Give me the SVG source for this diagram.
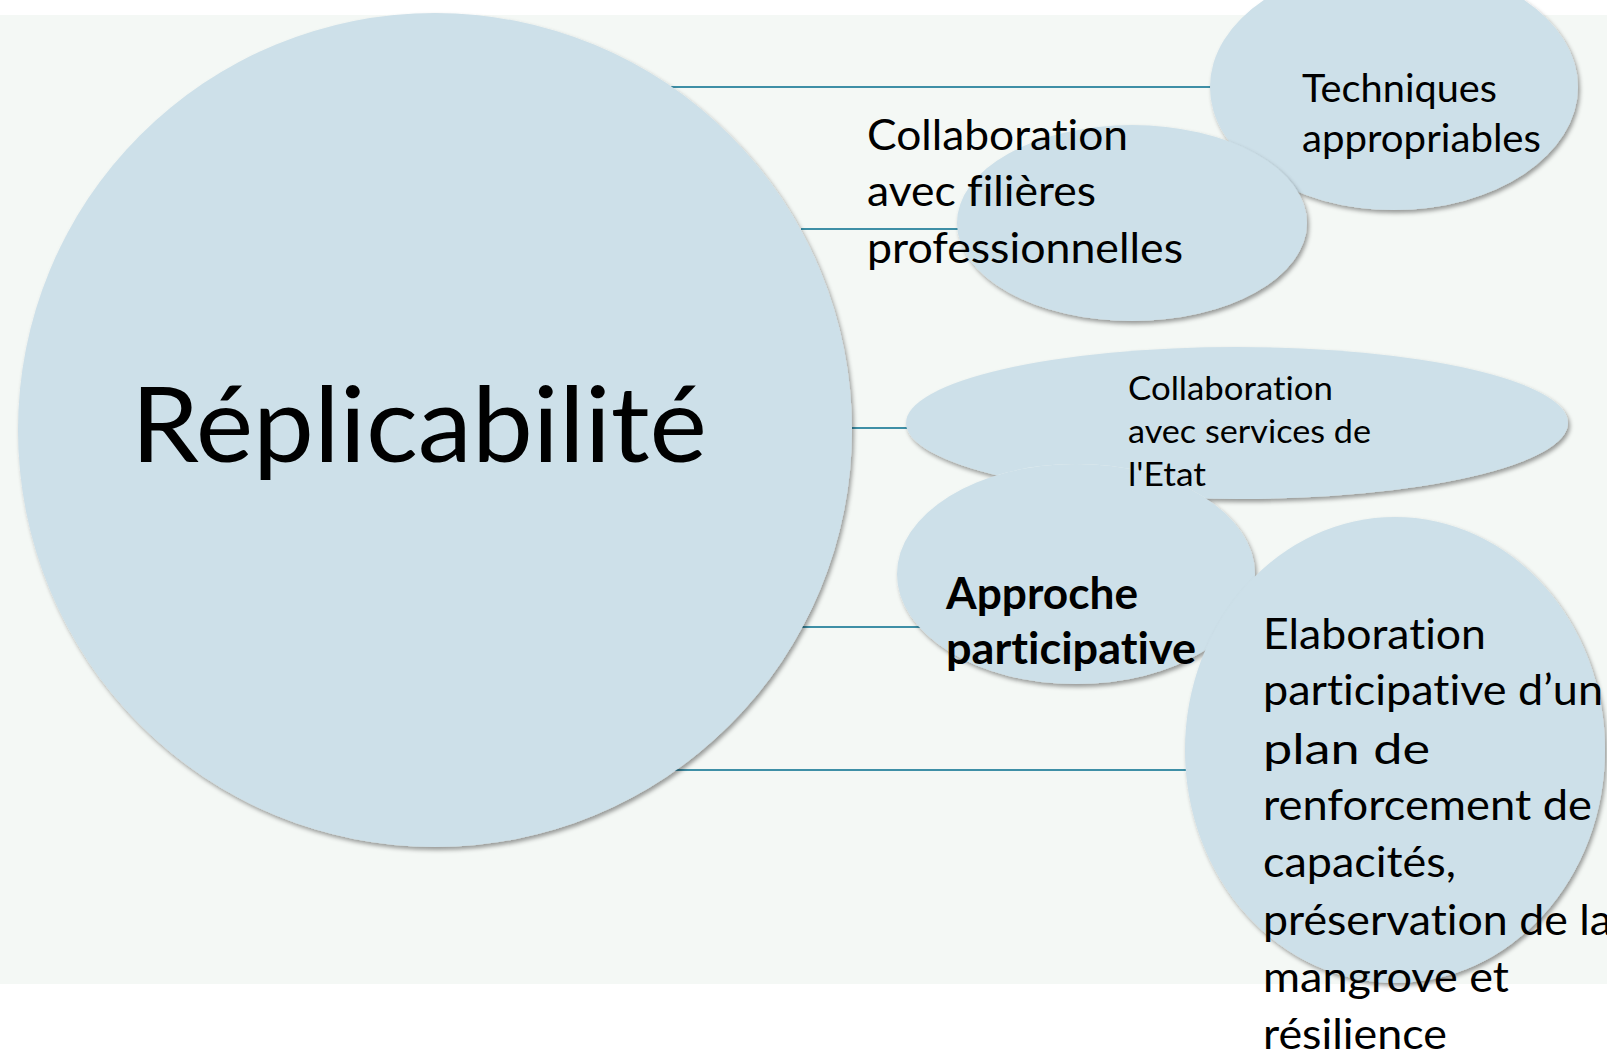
<svg xmlns="http://www.w3.org/2000/svg" width="1607" height="1053" viewBox="0 0 1607 1053">
  <style>
    .shape { fill: #CDE0E9; filter: url(#shadow); }
    .link { stroke: #3E8FA6; stroke-width: 2; fill: none; }
    .lbl { font-family: Lato, "Open Sans", "Liberation Sans", sans-serif; fill: #000; font-variant-ligatures: none; font-feature-settings: "liga" 0, "clig" 0; }
    .big { font-size: 104px; }
    .m { font-size: 43px; }
    .t { font-size: 38px; }
    .s { font-size: 33.5px; }
    .b { font-size: 43px; font-weight: bold; }
  </style>
  <defs>
    <filter id="shadow" x="-10%" y="-10%" width="120%" height="120%">
      <feDropShadow dx="2" dy="3" stdDeviation="2.2" flood-color="#000" flood-opacity="0.38"/>
    </filter>
    <mask id="servMask" maskUnits="userSpaceOnUse" x="0" y="0" width="1607" height="1053">
      <rect x="0" y="0" width="1607" height="1053" fill="#fff"/>
      <ellipse cx="1076" cy="574" rx="179" ry="110" fill="#000"/>
    </mask>
  </defs>

  <rect x="0" y="0" width="1607" height="1053" fill="#FFFFFF"/>
  <rect x="0" y="15" width="1607" height="969" fill="#F4F8F5"/>

  <g id="connectors">
    <line class="link" x1="671" y1="87" x2="1212" y2="87"/>
    <line class="link" x1="801" y1="229" x2="960" y2="229"/>
    <line class="link" x1="852" y1="428" x2="908" y2="428"/>
    <line class="link" x1="801" y1="627" x2="921" y2="627"/>
    <line class="link" x1="671" y1="770" x2="1190" y2="770"/>
  </g>

  <g id="node-replicabilite">
    <circle class="shape" cx="435" cy="430" r="417"/>
    <text class="lbl big" x="131" y="462" textLength="576" lengthAdjust="spacingAndGlyphs">Réplicabilité</text>
  </g>

  <g id="node-techniques">
    <ellipse class="shape" cx="1394" cy="87" rx="184" ry="123"/>
    <text class="lbl t" x="1302" y="102" textLength="195" lengthAdjust="spacingAndGlyphs">Techniques</text>
    <text class="lbl t" x="1302" y="152" textLength="239" lengthAdjust="spacingAndGlyphs">appropriables</text>
  </g>

  <g id="node-filieres">
    <ellipse class="shape" cx="1132" cy="223" rx="175" ry="98"/>
    <text class="lbl m" x="867" y="150" textLength="261" lengthAdjust="spacingAndGlyphs">Collaboration</text>
    <text class="lbl m" x="867" y="206" textLength="229" lengthAdjust="spacingAndGlyphs">avec filières</text>
    <text class="lbl m" x="867" y="263" textLength="316" lengthAdjust="spacingAndGlyphs">professionnelles</text>
  </g>

  <g id="node-approche">
    <ellipse class="shape" cx="1076" cy="574" rx="179" ry="110"/>
    <text class="lbl b" x="946" y="609" textLength="192" lengthAdjust="spacingAndGlyphs">Approche</text>
    <text class="lbl b" x="946" y="664" textLength="250" lengthAdjust="spacingAndGlyphs">participative</text>
  </g>

  <g id="node-services">
    <ellipse class="shape" cx="1237" cy="423" rx="331" ry="76" mask="url(#servMask)"/>
    <text class="lbl s" x="1128" y="400" textLength="205" lengthAdjust="spacingAndGlyphs">Collaboration</text>
    <text class="lbl s" x="1128" y="443" textLength="243" lengthAdjust="spacingAndGlyphs">avec services de</text>
    <text class="lbl s" x="1128" y="486" textLength="78" lengthAdjust="spacingAndGlyphs">l'Etat</text>
  </g>

  <g id="node-elaboration">
    <ellipse class="shape" cx="1395" cy="750" rx="210" ry="233"/>
    <text class="lbl m" x="1263" y="649" textLength="223" lengthAdjust="spacingAndGlyphs">Elaboration</text>
    <text class="lbl m" x="1263" y="705" textLength="340" lengthAdjust="spacingAndGlyphs">participative d’un</text>
    <text class="lbl m" x="1263" y="764" textLength="167" lengthAdjust="spacingAndGlyphs">plan de</text>
    <text class="lbl m" x="1263" y="820" textLength="329" lengthAdjust="spacingAndGlyphs">renforcement de</text>
    <text class="lbl m" x="1263" y="877" textLength="193" lengthAdjust="spacingAndGlyphs">capacités,</text>
    <text class="lbl m" x="1263" y="935" textLength="349" lengthAdjust="spacingAndGlyphs">préservation de la</text>
    <text class="lbl m" x="1263" y="992" textLength="246" lengthAdjust="spacingAndGlyphs">mangrove et</text>
    <text class="lbl m" x="1263" y="1049" textLength="184" lengthAdjust="spacingAndGlyphs">résilience</text>
  </g>
</svg>
